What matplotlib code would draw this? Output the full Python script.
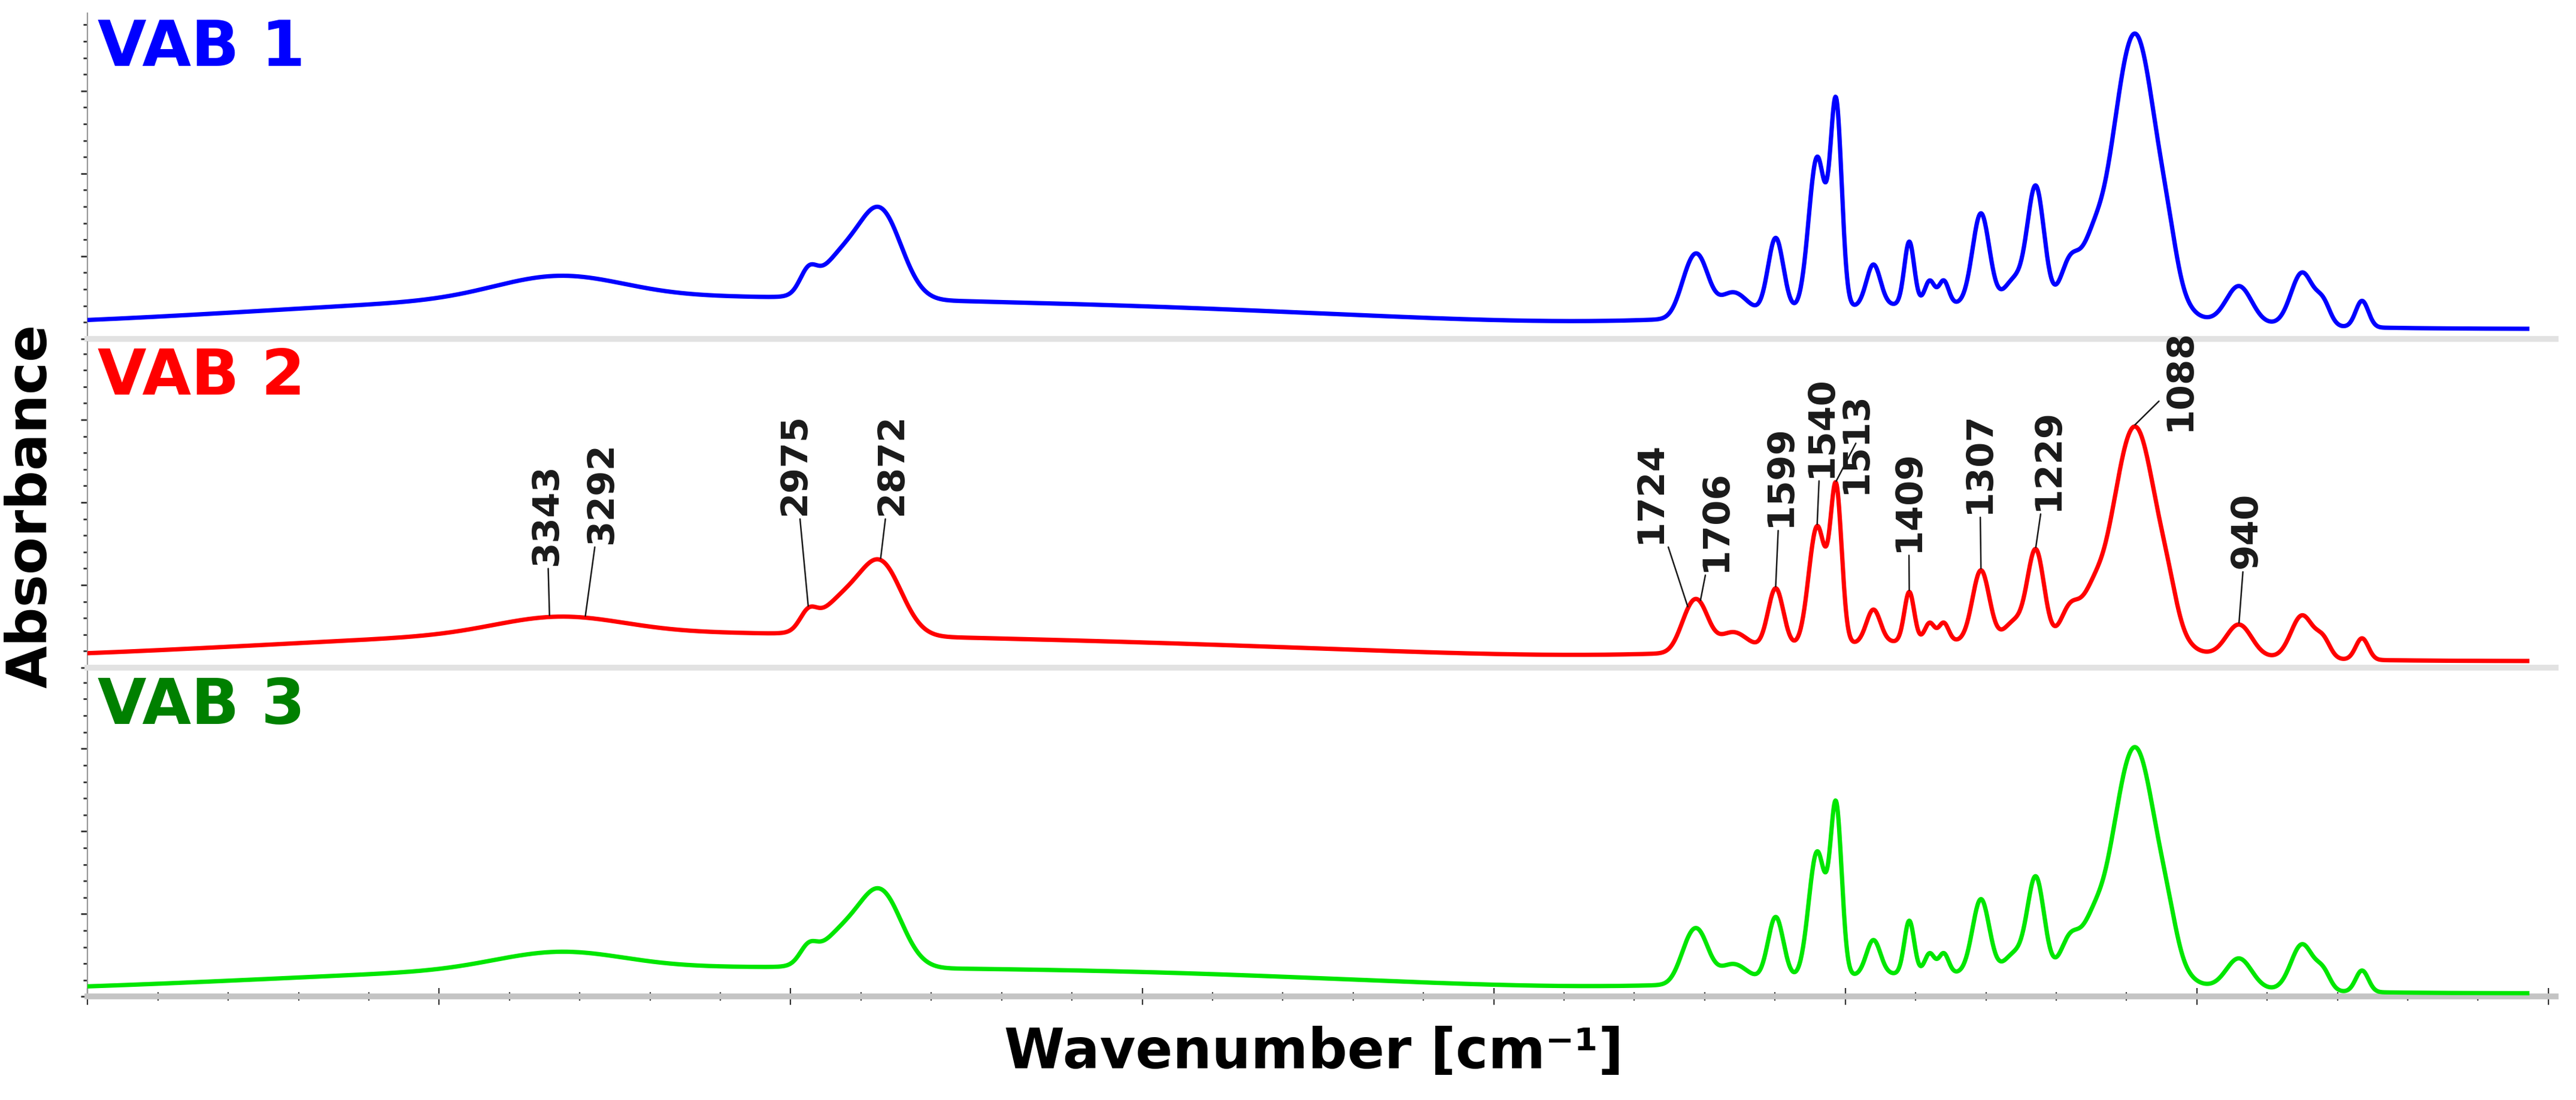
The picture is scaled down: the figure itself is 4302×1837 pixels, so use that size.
import matplotlib
matplotlib.use("Agg")
import matplotlib.pyplot as plt
from matplotlib.ticker import MultipleLocator
import numpy as np

plt.rcParams["font.family"] = ["DejaVu Sans"]

# band table shared by the three spectra: centre (cm-1), width (cm-1)
centers = [3300, 3330, 2975, 2930, 2872, 2500, 1724, 1706, 1660, 1599, 1540, 1513, 1460,
           1409, 1380, 1360, 1307, 1260, 1229, 1180, 1150, 1350, 1088, 1040, 940, 850, 820, 765]
widths = [450, 90, 12, 30, 30, 400, 14, 14, 20, 11, 12, 8, 10, 7, 7, 7, 12, 14, 12, 14, 14,
          250, 32, 12, 18, 16, 10, 9]
# band amplitudes (panel units)
vab1_amp = [18, 13, 12, 22, 52, 10, 20, 27, 14, 45, 92, 120, 25, 38, 14, 14, 55, 15, 72, 28,
            22, 15, 170, 12, 22, 32, 12, 16]
vab2_amp = [16, 10, 10, 18, 43, 8, 17, 22, 11, 36, 72, 92, 20, 30, 11, 11, 43, 12, 56, 22,
            17, 12, 135, 10, 19, 26, 10, 13]
vab3_amp = [14, 10, 9, 18, 45, 10, 18, 23, 11, 38, 76, 100, 21, 32, 12, 12, 45, 12, 59, 23,
            18, 12, 142, 10, 18, 28, 10, 13]
offsets = [6, 4, 2]
names = ["VAB 1", "VAB 2", "VAB 3"]
line_cols = ["#0000FF", "#FF0000", "#00E600"]
name_cols = ["#0000FF", "#FF0000", "#008000"]

# peak labels on VAB 2
peak_labels = [3343, 3292, 2975, 2872, 1724, 1706, 1599, 1540, 1513, 1409, 1307, 1229, 1088, 940]
# where each label text sits (wavenumber, height)
label_pos = [(3347, 62), (3268, 75), (2994, 92), (2856, 92), (1777, 75), (1684, 58),
             (1592, 85), (1534, 115), (1485, 105), (1410, 70), (1309, 93), (1211, 95),
             (1024, 143), (930, 60)]

wn = np.linspace(4000, 530, 4000)


def spectrum(x, amps, off):
    y = np.full_like(x, off, dtype=float)
    for c, w, a in zip(centers, widths, amps):
        y += a * np.exp(-0.5 * ((x - c) / w) ** 2)
    return y


fig = plt.figure(figsize=(21.51, 9.185), dpi=200)
axes = []
top, h = 0.988, 0.296
for i in range(3):
    ax = fig.add_axes([0.034, top - (i + 1) * h - i * 0.003, 0.958, h])
    axes.append(ax)

for i, (ax, amps) in enumerate(zip(axes, [vab1_amp, vab2_amp, vab3_amp])):
    y = spectrum(wn, amps, offsets[i])
    ax.plot(wn, y, color=line_cols[i], lw=2.6, zorder=3)
    ax.set_xlim(4000, 490)
    ax.set_ylim(0, 197)
    ax.text(0.004, 0.985, names[i], transform=ax.transAxes, ha="left", va="top",
            fontsize=38, fontweight="bold", color=name_cols[i])
    for sp in ("top", "right"):
        ax.spines[sp].set_visible(False)
    ax.spines["left"].set_color("#999999")
    ax.spines["left"].set_linewidth(0.8)
    ax.spines["bottom"].set_color("#e2e2e2" if i < 2 else "#c4c4c4")
    ax.spines["bottom"].set_linewidth(3.5)
    ax.yaxis.set_major_locator(MultipleLocator(50))
    ax.yaxis.set_minor_locator(MultipleLocator(10))
    ax.tick_params(axis="y", which="both", left=True, labelleft=False,
                   direction="out", color="#333333", width=1)
    ax.tick_params(axis="y", which="major", length=4)
    ax.tick_params(axis="y", which="minor", length=2.5)
    ax.xaxis.set_major_locator(MultipleLocator(500))
    ax.xaxis.set_minor_locator(MultipleLocator(100))
    if i < 2:
        ax.tick_params(axis="x", which="both", bottom=False, labelbottom=False)
    else:
        ax.tick_params(axis="x", which="both", labelbottom=False, direction="inout",
                       color="#333333", width=0.8)
        ax.tick_params(axis="x", which="major", length=10)
        ax.tick_params(axis="x", which="minor", length=5)

# annotations on VAB 2
ax2 = axes[1]
for p, (tx, ty) in zip(peak_labels, label_pos):
    py = spectrum(np.array([p], dtype=float), vab2_amp, offsets[1])[0]
    ax2.annotate(str(p), xy=(p, py + 1), xytext=(tx, ty), rotation=90,
                 ha="center", va="bottom", fontsize=22, fontweight="bold",
                 color="#1a1a1a",
                 arrowprops=dict(arrowstyle="-", lw=0.9, color="#1a1a1a",
                                 shrinkA=0, shrinkB=0))

fig.text(0.012, 0.54, "Absorbance", rotation=90, ha="center", va="center",
         fontsize=33, fontweight="bold")
fig.text(0.51, 0.043, "Wavenumber [cm\u207b\u00b9]", ha="center", va="center",
         fontsize=33, fontweight="bold")

fig.savefig("out.png", dpi=200)
